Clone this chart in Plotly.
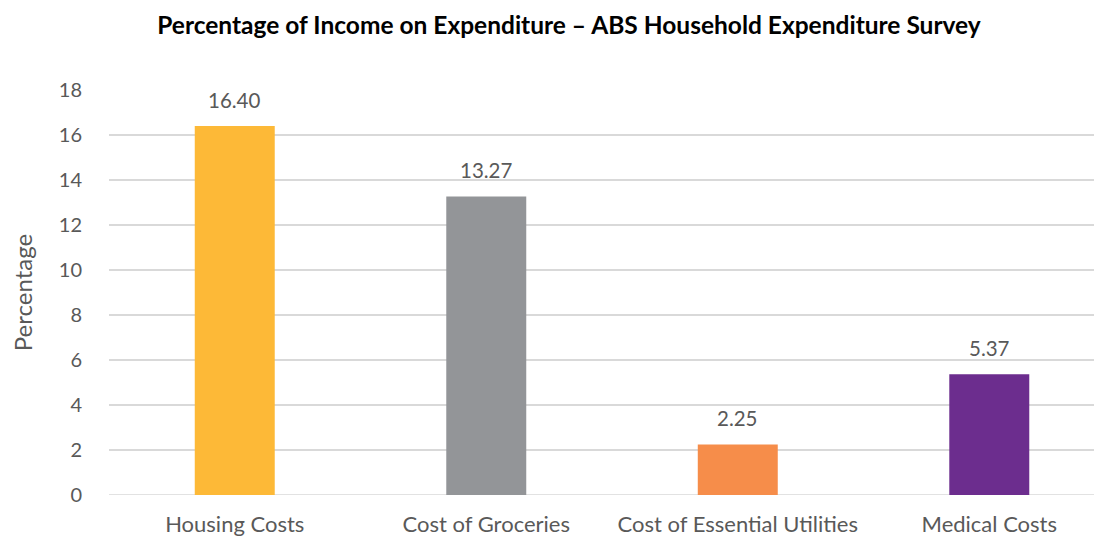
import plotly.graph_objects as go

categories = ["Housing Costs", "Cost of Groceries", "Cost of Essential Utilities", "Medical Costs"]
values = [16.40, 13.27, 2.25, 5.37]
labels = ["16.40", "13.27", "2.25", "5.37"]
colors = ["#FDB937", "#939598", "#F68D4A", "#6C2D8E"]
y_ticks = [0, 2, 4, 6, 8, 10, 12, 14, 16, 18]

FONT = "Lato"
TXT = "#595959"

fig = go.Figure()
fig.add_trace(go.Bar(
    x=categories, y=values, marker=dict(color=colors, line=dict(width=0)),
    width=0.318, hoverinfo="skip",
))

for c, v, t in zip(categories, values, labels):
    fig.add_annotation(x=c, y=v, text=t, showarrow=False, yanchor="bottom",
                       yshift=12, font=dict(family=FONT, size=20.5, color=TXT))

fig.update_layout(
    width=1102, height=536,
    margin=dict(l=101, r=0, t=82, b=49),
    paper_bgcolor="white", plot_bgcolor="white",
    showlegend=False,
    title=dict(text="<b>Percentage of Income on Expenditure – ABS Household Expenditure Survey</b>",
               x=(569 - 8) / 1102, xanchor="center", y=1 - 17/536, yanchor="middle", yref="container",
               font=dict(family=FONT, size=24.5, color="black")),
    xaxis=dict(range=[-0.5, 3.48], showgrid=False, showline=False, zeroline=False,
               ticks="outside", ticklen=10, tickcolor="rgba(0,0,0,0)",
               tickfont=dict(family=FONT, size=22, color=TXT)),
    yaxis=dict(range=[0, 18], tickvals=y_ticks, showgrid=True, gridcolor="#D9D9D9", gridwidth=1.5,
               zeroline=False, showline=False,
               ticks="outside", ticklen=22, tickcolor="rgba(0,0,0,0)",
               tickfont=dict(family=FONT, size=20, color=TXT),
               title=dict(text="Percentage", standoff=26, font=dict(family=FONT, size=24, color=TXT))),
)
fig.add_shape(type="line", xref="paper", yref="y", x0=0, x1=1, y0=0, y1=0,
              line=dict(color="#D9D9D9", width=1.5), layer="below")

fig.write_html("out.html")
